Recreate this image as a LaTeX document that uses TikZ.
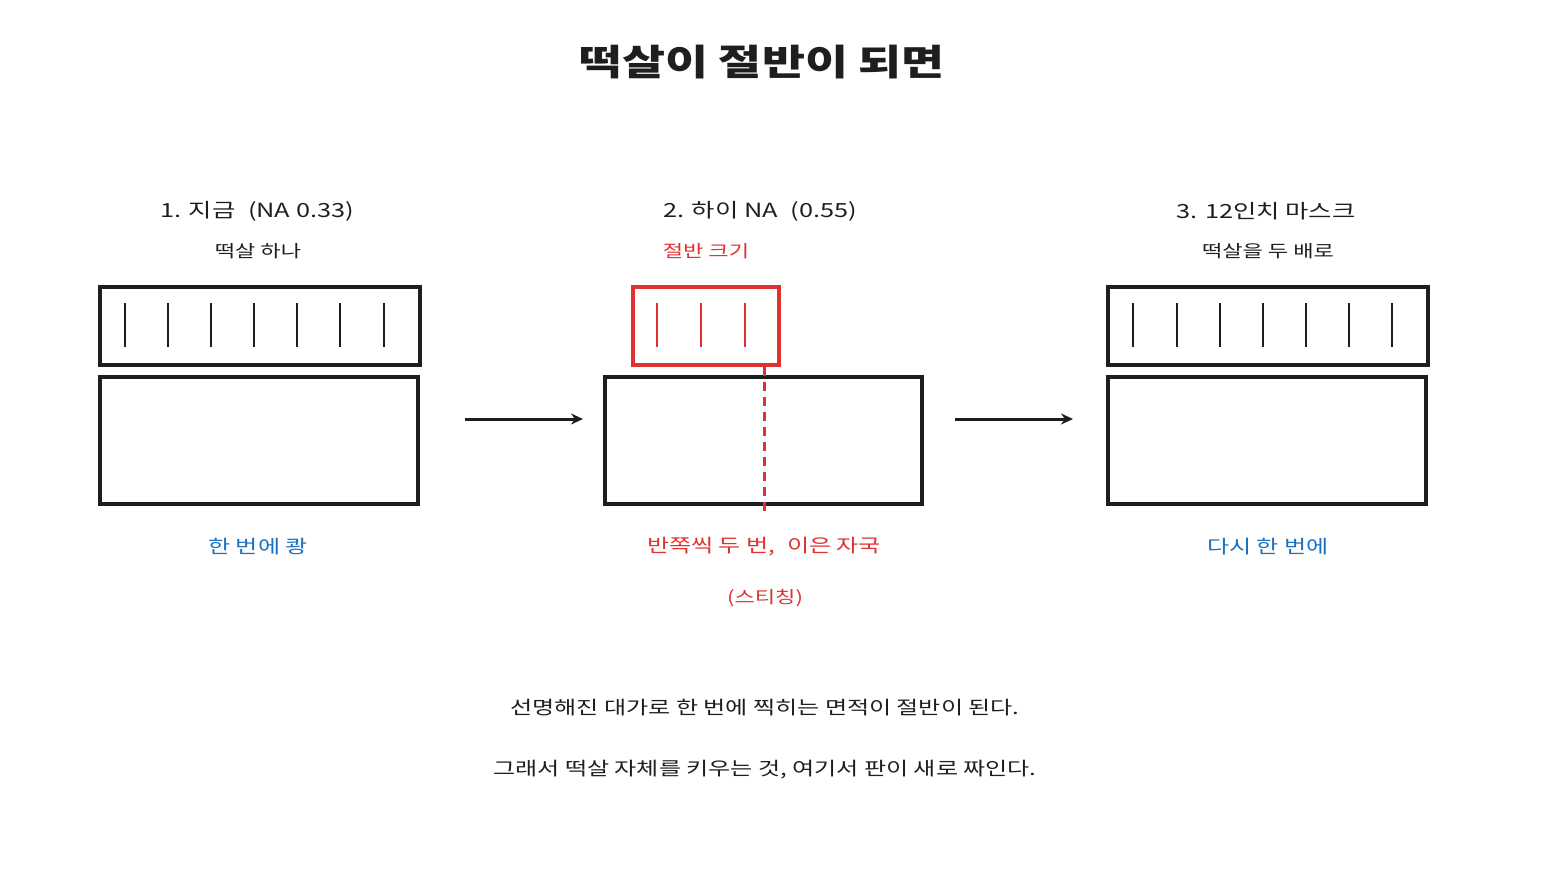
\documentclass[tikz,border=0pt]{standalone}
\usepackage{fontspec}
\setmainfont{Noto Sans CJK KR}
\usetikzlibrary{arrows.meta}
\definecolor{myred}{HTML}{E03131}
\definecolor{myblue}{HTML}{1971C2}
\definecolor{ink}{HTML}{1E1E1E}
\begin{document}
\begin{tikzpicture}[x=1pt,y=-1pt,
  box/.style={draw=ink,line width=3.5pt},
  rbox/.style={draw=myred,line width=3.5pt},
  tick/.style={draw=ink,line width=2.2pt},
  rtick/.style={draw=myred,line width=2.2pt},
  wide/.style={xscale=1.3},
  head/.style={wide,font=\fontsize{19.5}{22}\selectfont,text=ink},
  sub/.style={wide,font=\fontsize{17}{20}\selectfont,text=ink},
  lab/.style={wide,font=\fontsize{18.5}{21}\selectfont},
  arr/.style={draw=ink,line width=3pt,-{Stealth[length=12pt,width=11pt]}}]
\useasboundingbox (0,0) rectangle (1542,896);
\node[wide,font=\fontsize{36}{40}\selectfont\bfseries,text=ink] (title) at (762,62) {떡살이 절반이 되면};
% panel 1
\node[head] (h1) at (257,211) {1. 지금\enspace (NA 0.33)};
\node[sub] (s1) at (258,251) {떡살 하나};
\draw[box] (100,287) rectangle (420,365);
\foreach \x in {125,168,211,254,297,340,384} \draw[tick] (\x,303) -- (\x,347);
\draw[box] (100,377) rectangle (418,504);
\node[lab,text=myblue] (l1) at (258,547) {한 번에 쾅};
\coordinate (a1s) at (465,419); \coordinate (a1e) at (583,419);
\draw[arr] (a1s) -- (a1e);
% panel 2
\node[head] (h2) at (760,211) {2. 하이 NA\enspace (0.55)};
\node[sub,text=myred] (s2) at (706,251) {절반 크기};
\draw[rbox] (633,287) rectangle (779,365);
\foreach \x in {657,701,745} \draw[rtick] (\x,303) -- (\x,347);
\draw[box] (605,377) rectangle (922,504);
\coordinate (d1) at (764,367); \coordinate (d2) at (764,512);
\draw[myred,line width=3pt,dash pattern=on 9pt off 6pt] (d1) -- (d2);
\node[lab,text=myred] (l2) at (764,547) {반쪽씩 두 번,\enspace 이은 자국};
\node[sub,text=myred] (l2b) at (765,598) {(스티칭)};
\coordinate (a2s) at (955,419); \coordinate (a2e) at (1073,419);
\draw[arr] (a2s) -- (a2e);
% panel 3
\node[head] (h3) at (1266,211) {3. 12인치 마스크};
\node[sub] (s3) at (1268,251) {떡살을 두 배로};
\draw[box] (1108,287) rectangle (1428,365);
\foreach \x in {1133,1177,1220,1263,1306,1349,1392} \draw[tick] (\x,303) -- (\x,347);
\draw[box] (1108,377) rectangle (1426,504);
\node[lab,text=myblue] (l3) at (1268,547) {다시 한 번에};
% bottom
\node[lab,text=ink] (b1) at (765,708) {선명해진 대가로 한 번에 찍히는 면적이 절반이 된다.};
\node[lab,text=ink] (b2) at (765,770) {그래서 떡살 자체를 키우는 것, 여기서 판이 새로 짜인다.};
\end{tikzpicture}
\end{document}
